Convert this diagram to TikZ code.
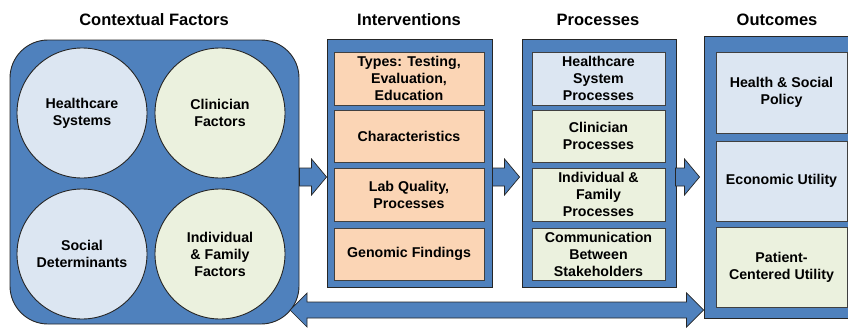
\documentclass[tikz,border=0pt]{standalone}
\usepackage{fontspec}
\setmainfont{Liberation Sans}
\usetikzlibrary{calc}
\definecolor{cblue}{HTML}{4F81BD}
\definecolor{lblue}{HTML}{DCE6F2}
\definecolor{lgreen}{HTML}{EBF1DE}
\definecolor{peach}{HTML}{FBD5B5}
\definecolor{edge}{HTML}{262626}
\newcommand\blockarrow[2]{%
  \draw[barrow] let \p1=(#1), \p2=(#2) in
    (\x1,\y1+9pt) -- (\x2-15pt,\y1+9pt) -- (\x2-15pt,\y1+18pt) -- (\x2,\y1)
    -- (\x2-15pt,\y1-18pt) -- (\x2-15pt,\y1-9pt) -- (\x1,\y1-9pt) -- cycle;}
\newcommand\doublearrow[2]{%
  \draw[barrow] let \p1=(#1), \p2=(#2) in
    (\x1,\y1) -- (\x1+17pt,\y1+17pt) -- (\x1+17pt,\y1+8pt) -- (\x2-17pt,\y1+8pt)
    -- (\x2-17pt,\y1+17pt) -- (\x2,\y1) -- (\x2-17pt,\y1-17pt) -- (\x2-17pt,\y1-8pt)
    -- (\x1+17pt,\y1-8pt) -- (\x1+17pt,\y1-17pt) -- cycle;}
\tikzset{
  outerbox/.style={draw=edge, line width=0.9pt, fill=cblue, inner sep=0pt},
  innerbox/.style={draw=black!75, line width=0.9pt, inner sep=1pt, align=center},
  circ/.style={circle, draw=edge, line width=0.9pt, minimum size=130pt, inner sep=0pt, align=center},
  barrow/.style={draw=edge, line width=0.7pt, fill=cblue},
  title/.style={font=\bfseries\fontsize{16.5}{19}\selectfont},
}
\begin{document}
\begin{tikzpicture}[x=1pt,y=-1pt, font=\bfseries\fontsize{14.2}{17}\selectfont]
\useasboundingbox (0,0) rectangle (848,327);

% titles
\node[title] (t1) at (154,20) {Contextual Factors};
\node[title] (t2) at (409,20) {Interventions};
\node[title] (t3) at (598,20) {Processes};
\node[title] (t4) at (777,20) {Outcomes};

% contextual factors
\node[outerbox, rounded corners=38pt, minimum width=289pt, minimum height=284pt] (ctx) at (154.5,182) {};
\node[circ, fill=lblue] (hs) at (82,113) {Healthcare\\Systems};
\node[circ, fill=lgreen] (cf) at (220,113) {Clinician\\Factors};
\node[circ, fill=lblue] (sd) at (82,254) {Social\\Determinants};
\node[circ, fill=lgreen] (if) at (220,254) {Individual\\\& Family\\Factors};

% interventions
\node[outerbox, minimum width=165pt, minimum height=248pt] (int) at (409.5,163) {};
\node[innerbox, fill=peach, minimum width=150pt, minimum height=53pt] (i1) at (409,78.5) {Types: Testing,\\Evaluation,\\Education};
\node[innerbox, fill=peach, minimum width=150pt, minimum height=52pt] (i2) at (409,136) {Characteristics};
\node[innerbox, fill=peach, minimum width=150pt, minimum height=53pt] (i3) at (409,194.5) {Lab Quality,\\Processes};
\node[innerbox, fill=peach, minimum width=150pt, minimum height=52pt] (i4) at (409,254) {Genomic Findings};

% processes
\node[outerbox, minimum width=154pt, minimum height=248pt] (pro) at (599,163) {};
\node[innerbox, fill=lblue, minimum width=133pt, minimum height=53pt] (p1) at (598.5,78.5) {Healthcare\\System\\Processes};
\node[innerbox, fill=lgreen, minimum width=133pt, minimum height=52pt] (p2) at (598.5,136) {Clinician\\Processes};
\node[innerbox, fill=lgreen, minimum width=133pt, minimum height=53pt] (p3) at (598.5,194.5) {Individual \&\\Family\\Processes};
\node[innerbox, fill=lgreen, minimum width=133pt, minimum height=52pt] (p4) at (598.5,254) {Communication\\Between\\Stakeholders};

% outcomes
\node[outerbox, minimum width=166pt, minimum height=282pt] (out) at (787,177) {};
\node[innerbox, fill=lblue, minimum width=131pt, minimum height=81pt] (o1) at (781.5,92.5) {Health \& Social\\Policy};
\node[innerbox, fill=lblue, minimum width=131pt, minimum height=80pt] (o2) at (781.5,181) {Economic Utility};
\node[innerbox, fill=lgreen, minimum width=131pt, minimum height=80pt] (o3) at (781.5,267) {Patient-\\Centered Utility};

% arrows
\blockarrow{ctx.east |- 0,177}{int.west |- 0,177}
\blockarrow{int.east |- 0,177}{$(pro.west |- 0,177)+(-2,0)$}
\blockarrow{$(pro.east |- 0,177)+(-1,0)$}{$(out.west |- 0,177)+(-4,0)$}
\doublearrow{290,310}{out.west |- 0,310}
\end{tikzpicture}
\end{document}
